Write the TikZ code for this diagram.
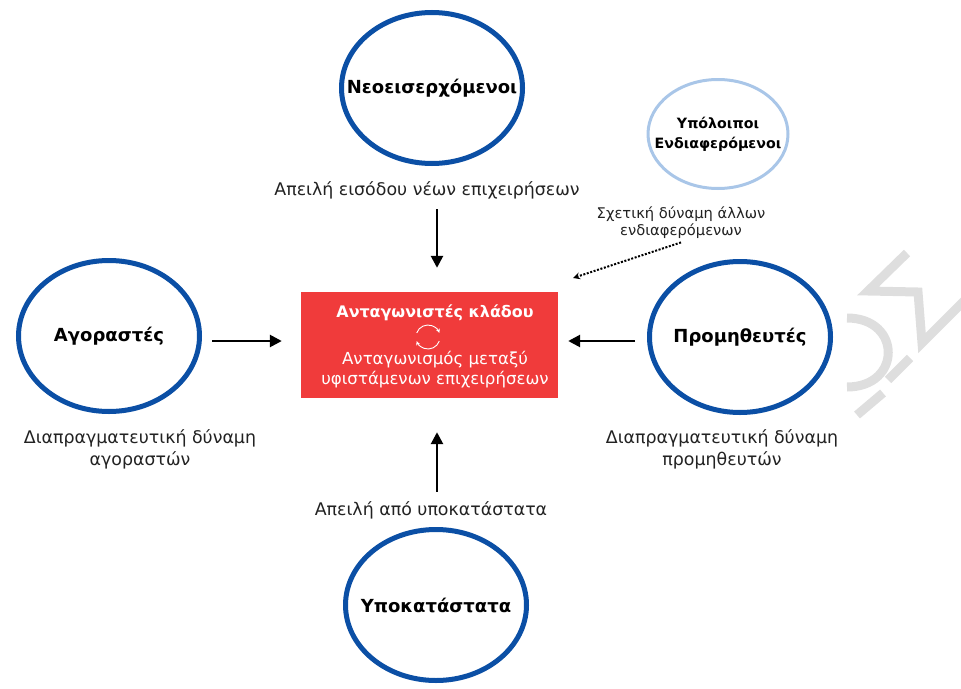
\documentclass[tikz,border=0pt]{standalone}
\usepackage{fontspec}
\setmainfont{DejaVu Sans}
\usetikzlibrary{shapes.geometric,arrows.meta}

\definecolor{forceblue}{HTML}{0B4FA5}
\definecolor{softblue}{HTML}{A9C6E8}
\definecolor{rivalred}{HTML}{F03B3B}
\definecolor{captiontext}{HTML}{222222}
\definecolor{markgray}{HTML}{DEDEDE}

\tikzset{
  force/.style={ellipse, draw=forceblue, line width=5pt, minimum width=181pt,
    minimum height=151pt, inner sep=0pt, font=\bfseries\fontsize{18}{20}\selectfont},
  caption/.style={align=center, text=captiontext, font=\fontsize{17.4}{22}\selectfont},
  push/.style={line width=2.6pt, -{Triangle[width=12pt,length=12pt]}}
}

\begin{document}
\begin{tikzpicture}[x=1pt,y=-1pt]
      % Fix the frame of the picture
      \useasboundingbox (0,0) rectangle (961,688);

      % Draw the faint watermark on the right
      \draw[markgray, line width=9pt] (907,253) -- (868,291) -- (918,292)
        -- (922,343) -- (965,300);
      \draw[markgray, line width=9pt] (847,318) .. controls (902,318) and (902,387) .. (847,387);
      \draw[markgray, line width=9pt] (910,358) -- (888,380);
      \draw[markgray, line width=9pt] (883,393) -- (857,415);

      % Draw the forces round the industry (text kept at zero width)
      \node[force] (new) at (432,88) {\makebox[0pt]{Νεοεισερχόμενοι}};
      \node[force] (buyers) at (109,336) {\makebox[0pt]{Αγοραστές}};
      \node[force] (suppliers) at (740,337) {\makebox[0pt]{Προμηθευτές}};
      \node[force] (subst) at (436,605) {\makebox[0pt]{Υποκατάστατα}};
      \node[ellipse, draw=softblue, line width=3pt, minimum width=140pt,
        minimum height=109pt, inner sep=0pt,
        font=\bfseries\fontsize{14.2}{20}\selectfont] (others) at (718,134)
        {\makebox[0pt]{\begin{tabular}{@{}c@{}}Υπόλοιποι\\Ενδιαφερόμενοι\end{tabular}}};

      % Draw the red box of the rivals in the middle
      \node[fill=rivalred, minimum width=257pt, minimum height=106pt] (rivals) at (429.5,345) {};
      \node[text=white, font=\bfseries\fontsize{15.9}{18}\selectfont] (rivalhead) at (435,313)
        {Ανταγωνιστές κλάδου};
      \node[text=white, align=center, font=\fontsize{16.6}{20}\selectfont] (rivaltxt) at (435,370)
        {Ανταγωνισμός μεταξύ\\υφιστάμενων επιχειρήσεων};
      \coordinate (cycle) at (428,337);
      \draw[white, line width=0.9pt, -{Stealth[length=4pt,width=4pt]}]
        (cycle) ++(200:12) arc (200:340:12);
      \draw[white, line width=0.9pt, -{Stealth[length=4pt,width=4pt]}]
        (cycle) ++(20:12) arc (20:160:12);

      % Add the captions of the forces
      \node[caption] (newtxt) at (427,190) {Απειλή εισόδου νέων επιχειρήσεων};
      \node[caption, font=\fontsize{14.7}{17}\selectfont] (othertxt) at (681,223)
        {Σχετική δύναμη άλλων\\ενδιαφερόμενων};
      \node[caption] (buytxt) at (140,449) {Διαπραγματευτική δύναμη\\αγοραστών};
      \node[caption] (suptxt) at (722,449) {Διαπραγματευτική δύναμη\\προμηθευτών};
      \node[caption] (substtxt) at (431,510) {Απειλή από υποκατάστατα};

      % Draw the arrows into the box
      \coordinate (upright) at (437,0);
      \coordinate (midrow) at (0,341);
      \coordinate (dotend) at (573,278);
      \draw[push, shorten <=7pt, shorten >=24pt] (newtxt.south -| upright) -- (rivals.north -| upright);
      \draw[push, shorten <=10pt, shorten >=19pt] (buyers.east |- midrow) -- (rivals.west |- midrow);
      \draw[push, shorten <=12pt, shorten >=10pt] (suppliers.west |- midrow) -- (rivals.east |- midrow);
      \draw[push, shorten <=6pt, shorten >=34pt] (substtxt.north -| upright) -- (rivals.south -| upright);
      \draw[line width=2pt, dash pattern=on 2pt off 1.6pt, -{Stealth[length=7pt,width=7pt]},
        shorten <=0pt] (othertxt.south) -- (dotend);
\end{tikzpicture}
\end{document}
